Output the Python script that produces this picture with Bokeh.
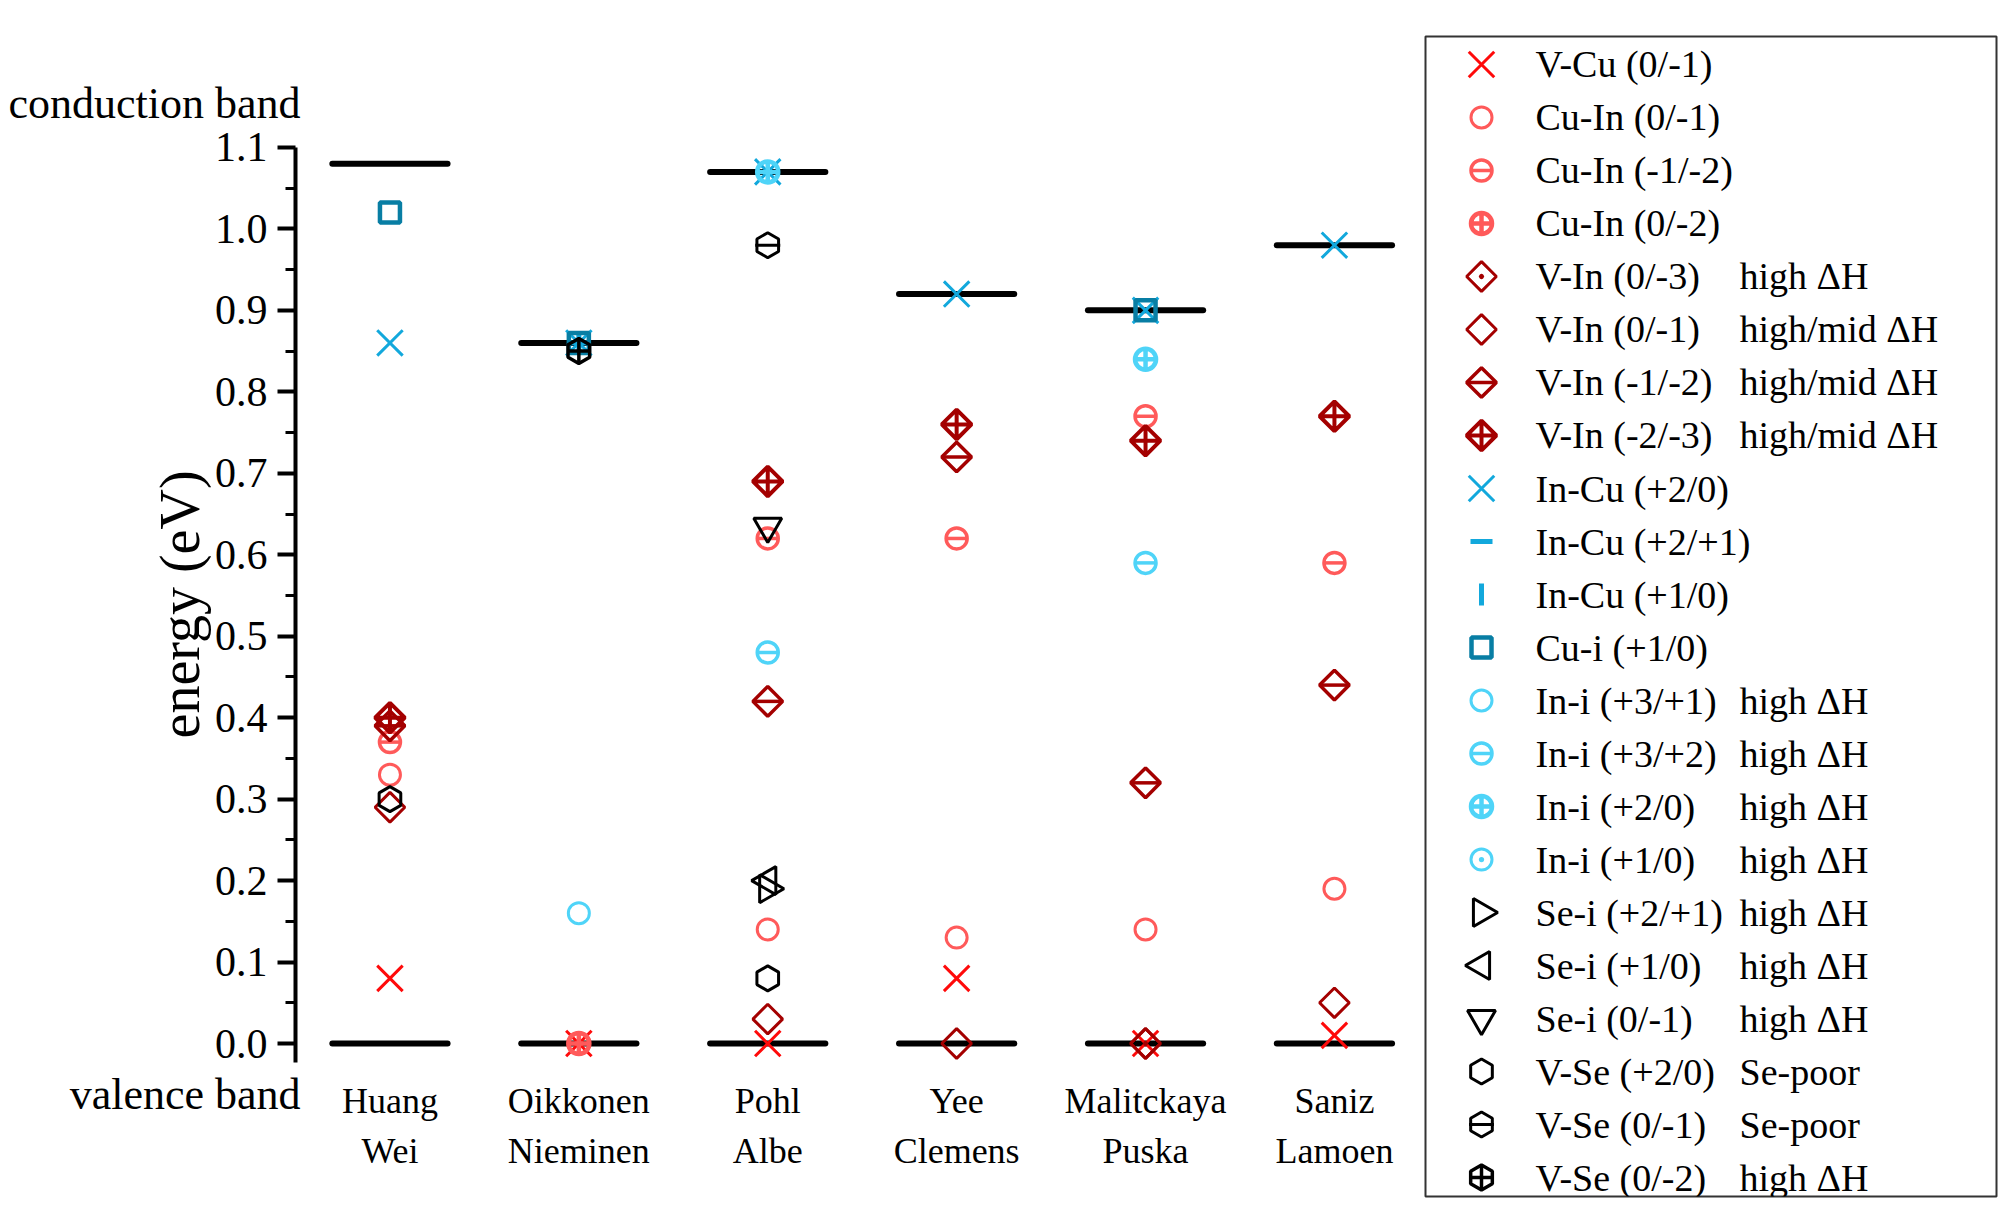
import math
from bokeh.plotting import figure
from bokeh.models import Range1d, FixedTicker, NumeralTickFormatter, Label, ColumnDataSource
from bokeh.layouts import row
from bokeh.embed import file_html
from bokeh.resources import INLINE
from bokeh.core.properties import value

nan = float("nan")

# ---------------- data ----------------
authors_top = ["Huang", "Oikkonen", "Pohl", "Yee", "Malitckaya", "Saniz"]
authors_bottom = ["Wei", "Nieminen", "Albe", "Clemens", "Puska", "Lamoen"]
positions = [1, 2, 3, 4, 5, 6]
conduction_band = [1.08, 0.86, 1.07, 0.92, 0.90, 0.98]
valence_band = [0.0, 0.0, 0.0, 0.0, 0.0, 0.0]

y_ticks = [0.0, 0.1, 0.2, 0.3, 0.4, 0.5, 0.6, 0.7, 0.8, 0.9, 1.0, 1.1]
y_minor = [0.05, 0.15, 0.25, 0.35, 0.45, 0.55, 0.65, 0.75, 0.85, 0.95, 1.05]

v_cu_0_m1   = [0.08, 0.00, 0.00, 0.08, 0.00, 0.01]
cu_in_0_m1  = [0.33, 0.00, 0.14, 0.13, 0.14, 0.19]
cu_in_m1_m2 = [0.37, 0.00, 0.62, 0.62, 0.77, 0.59]
cu_in_0_m2  = [nan, 0.00, nan, nan, nan, nan]
v_in_0_m3   = [nan, nan, nan, nan, 0.00, nan]
v_in_0_m1   = [0.29, nan, 0.03, 0.00, 0.00, 0.05]
v_in_m1_m2  = [0.39, nan, 0.42, 0.72, 0.32, 0.44]
v_in_m2_m3  = [0.40, nan, 0.69, 0.76, 0.74, 0.77]
in_cu_p2_0  = [0.86, 0.86, 1.07, 0.92, 0.90, 0.98]
in_cu_p2_p1 = [nan, 0.86, nan, nan, nan, nan]
in_cu_p1_0  = [nan, 0.86, nan, nan, nan, nan]
cu_i_p1_0   = [1.02, 0.86, nan, nan, 0.90, nan]
in_i_p3_p1  = [nan, 0.16, 1.07, nan, nan, nan]
in_i_p3_p2  = [nan, nan, 0.48, nan, 0.59, nan]
in_i_p2_0   = [nan, nan, 1.07, nan, 0.84, nan]
in_i_p1_0   = [nan, nan, 1.07, nan, nan, nan]
se_i_p2_p1  = [nan, nan, 0.19, nan, nan, nan]
se_i_p1_0   = [nan, nan, 0.20, nan, nan, nan]
se_i_0_m1   = [nan, nan, 0.635, nan, nan, nan]
v_se_p2_0   = [0.30, nan, 0.08, nan, nan, nan]
v_se_0_m1   = [nan, nan, 0.98, nan, nan, nan]
v_se_0_m2   = [nan, 0.85, nan, nan, nan, nan]

# ---------------- styles ----------------
RED = "#ff0a0a"
SALMON = "#ff5a5a"
DARKRED = "#a40000"
INCU = "#12a8dc"
CUI = "#087ea4"
INI = "#4fd4f8"
BLACK = "#000000"
Q = math.pi / 4
H = math.pi / 2

# (label, note, values, color, line width, [(marker, size, angle), ...])
series = [
    ("V-Cu (0/-1)", "", v_cu_0_m1, RED, 3, [("x", 36, 0)]),
    ("Cu-In (0/-1)", "", cu_in_0_m1, SALMON, 3, [("circle", 21, 0)]),
    ("Cu-In (-1/-2)", "", cu_in_m1_m2, SALMON, 3.5, [("circle", 21, 0), ("dash", 21, 0)]),
    ("Cu-In (0/-2)", "", cu_in_0_m2, SALMON, 4.5, [("circle_cross", 21, 0)]),
    ("V-In (0/-3)", "high \u0394H", v_in_0_m3, DARKRED, 3, [("square_dot", 21, Q)]),
    ("V-In (0/-1)", "high/mid \u0394H", v_in_0_m1, DARKRED, 3, [("square", 21, Q)]),
    ("V-In (-1/-2)", "high/mid \u0394H", v_in_m1_m2, DARKRED, 3.5, [("square", 21, Q), ("dash", 29, 0)]),
    ("V-In (-2/-3)", "high/mid \u0394H", v_in_m2_m3, DARKRED, 4, [("square_x", 21, Q)]),
    ("In-Cu (+2/0)", "", in_cu_p2_0, INCU, 3, [("x", 36, 0)]),
    ("In-Cu (+2/+1)", "", in_cu_p2_p1, INCU, 5, [("dash", 22, 0)]),
    ("In-Cu (+1/0)", "", in_cu_p1_0, INCU, 5, [("dash", 22, H)]),
    ("Cu-i (+1/0)", "", cu_i_p1_0, CUI, 4.5, [("square", 20, 0)]),
    ("In-i (+3/+1)", "high \u0394H", in_i_p3_p1, INI, 3, [("circle", 21, 0)]),
    ("In-i (+3/+2)", "high \u0394H", in_i_p3_p2, INI, 3.5, [("circle", 21, 0), ("dash", 21, 0)]),
    ("In-i (+2/0)", "high \u0394H", in_i_p2_0, INI, 4.5, [("circle_cross", 21, 0)]),
    ("In-i (+1/0)", "high \u0394H", in_i_p1_0, INI, 3, [("circle_dot", 21, 0)]),
    ("Se-i (+2/+1)", "high \u0394H", se_i_p2_p1, BLACK, 3, [("triangle", 28, -H)]),
    ("Se-i (+1/0)", "high \u0394H", se_i_p1_0, BLACK, 3, [("triangle", 28, H)]),
    ("Se-i (0/-1)", "high \u0394H", se_i_0_m1, BLACK, 3, [("inverted_triangle", 28, 0)]),
    ("V-Se (+2/0)", "Se-poor", v_se_p2_0, BLACK, 3, [("hex", 25, H)]),
    ("V-Se (0/-1)", "Se-poor", v_se_0_m1, BLACK, 3, [("hex", 25, H), ("dash", 25, 0)]),
    ("V-Se (0/-2)", "high \u0394H", v_se_0_m2, BLACK, 3.5, [("hex", 25, H), ("cross", 22, 0)]),
]

FONT = "Liberation Serif"

# ---------------- main figure ----------------
# frame spans x 0..1420 px and y 36..1196 px; the energy axis sits at x = 0.5
p = figure(width=1420, height=1198, output_backend="svg", toolbar_location=None,
           x_range=Range1d(-1.0617, 6.4556), y_range=Range1d(-0.1878, 1.2362),
           min_border_left=0, min_border_right=0, min_border_top=36, min_border_bottom=2)
p.outline_line_color = None
p.xgrid.grid_line_color = None
p.ygrid.grid_line_color = None
p.background_fill_color = "white"
p.xaxis.visible = False

# band edges
half = 0.305
bands = ColumnDataSource(dict(
    x0=[x - half for x in positions] * 2,
    x1=[x + half for x in positions] * 2,
    y=conduction_band + valence_band,
))
p.segment(x0="x0", y0="y", x1="x1", y1="y", source=bands, line_color="black",
          line_width=6, line_cap="round")

for label, note, vals, color, lw, parts in series:
    xs = [x for x, v in zip(positions, vals) if not math.isnan(v)]
    ys = [v for v in vals if not math.isnan(v)]
    if not xs:
        continue
    src = ColumnDataSource(dict(x=xs, y=ys))
    for marker, size, ang in parts:
        p.scatter(x="x", y="y", source=src, marker=marker, size=size, angle=ang,
                  line_color=color, fill_color=None, line_width=lw)

# y axis, pinned at x = 0.5
yax = p.yaxis[0]
yax.fixed_location = 0.5
yax.bounds = (-0.023, 1.1)
yax.ticker = FixedTicker(ticks=y_ticks, minor_ticks=y_minor)
yax.formatter = NumeralTickFormatter(format="0.0")
yax.axis_line_width = 4
yax.major_tick_line_width = 4
yax.minor_tick_line_width = 3
yax.major_tick_out = 18
yax.major_tick_in = 0
yax.minor_tick_out = 10
yax.minor_tick_in = 0
yax.major_label_text_font = FONT
yax.major_label_text_font_size = "42px"
yax.major_label_text_color = "black"
yax.major_label_standoff = 10

p.add_layout(Label(x=-0.114, y=0.539, angle=math.pi / 2, text="energy (eV)",
                   text_align="center", text_baseline="middle", text_font=FONT,
                   text_font_size="56px", text_color="black"))

# author names under each column
p.text(x=positions, y=[-0.070] * 6, text=authors_top, text_font=value(FONT),
       text_font_size="36px", text_align="center", text_baseline="middle", text_color="black")
p.text(x=positions, y=[-0.1315] * 6, text=authors_bottom, text_font=value(FONT),
       text_font_size="36px", text_align="center", text_baseline="middle", text_color="black")

p.add_layout(Label(x=0.5, y=1.1, x_offset=5, y_offset=44, text="conduction band",
                   text_align="right", text_baseline="middle", text_font=FONT,
                   text_font_size="44px", text_color="black"))
p.add_layout(Label(x=0.5, y=0.0, x_offset=5, y_offset=-51, text="valence band",
                   text_align="right", text_baseline="middle", text_font=FONT,
                   text_font_size="44px", text_color="black"))

# ---------------- legend panel ----------------
n = len(series)
leg = figure(width=578, height=1198, output_backend="svg", toolbar_location=None,
             x_range=Range1d(0, 571), y_range=Range1d(-22.358, -0.472),
             x_axis_location=None, y_axis_location=None,
             min_border_left=5, min_border_right=2, min_border_top=36, min_border_bottom=2)
leg.xgrid.grid_line_color = None
leg.ygrid.grid_line_color = None
leg.outline_line_color = "#333333"
leg.outline_line_width = 2

for i, (label, note, vals, color, lw, parts) in enumerate(series):
    yy = -(i + 1)
    src = ColumnDataSource(dict(x=[56], y=[yy]))
    for marker, size, ang in parts:
        leg.scatter(x="x", y="y", source=src, marker=marker, size=size, angle=ang,
                    line_color=color, fill_color=None, line_width=lw)

rows_y = [-(i + 1) for i in range(n)]
leg.text(x=[110] * n, y=rows_y, text=[s[0] for s in series], text_font=value(FONT),
         text_font_size="38px", text_baseline="middle", text_align="left", text_color="black")
leg.text(x=[314] * n, y=rows_y, text=[s[1] for s in series], text_font=value(FONT),
         text_font_size="38px", text_baseline="middle", text_align="left", text_color="black")

layout = row(p, leg)
open("out.html", "w").write(file_html(layout, INLINE))
